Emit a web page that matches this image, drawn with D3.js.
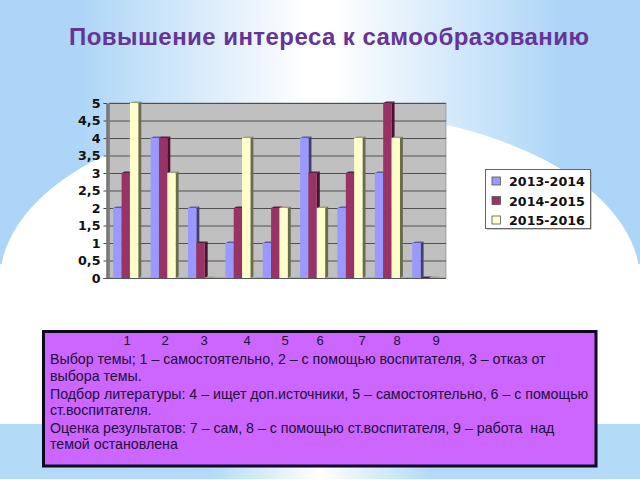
<!DOCTYPE html>
<html>
<head>
<meta charset="utf-8">
<script src="https://cdn.jsdelivr.net/npm/d3@7"></script>
<style>
html,body{margin:0;padding:0;background:#fff;}
svg{display:block;}
</style>
</head>
<body>
<svg id="chart" width="640" height="480"></svg>
<script>
// values
var categories = ["1","2","3","4","5","6","7","8","9"];
var seriesNames = ["2013-2014","2014-2015","2015-2016"];
var values2013 = [2,4,2,1,1,4,2,3,1];
var values2014 = [3,4,1,2,2,3,3,5,0];
var values2015 = [5,3,0,4,2,2,4,4,0];
var yTicks = [0,0.5,1,1.5,2,2.5,3,3.5,4,4.5,5];
var titleText = "Повышение интереса к самообразованию";
var noteNumbers = ["1","2","3","4","5","6","7","8","9"];
var noteLines = [
  "Выбор темы; 1 – самостоятельно, 2 – с помощью воспитателя, 3 – отказ от",
  "выбора темы.",
  "Подбор литературы: 4 – ищет доп.источники, 5 – самостоятельно, 6 – с помощью",
  "ст.воспитателя.",
  "Оценка результатов: 7 – сам, 8 – с помощью ст.воспитателя, 9 – работа  над",
  "темой остановлена"
];

var seriesValues = [values2013, values2014, values2015];
var fills = ["#9999ff","#993366","#ffffcc"];
var sideFills = ["#3f3f75","#4a1230","#6b6b50"];
var topFills = ["#5c5ca8","#5e1c3e","#a0a07c"];

var svg = d3.select("#chart");
var defs = svg.append("defs");

function makeGradient(id, stops){
  var g = defs.append("linearGradient").attr("id", id);
  stops.forEach(function(s){
    g.append("stop").attr("offset", s[0]).attr("stop-color", s[1]);
  });
}
var skyBlue = "#acd5f7";
makeGradient("topGrad", [[0.12,skyBlue],[0.48,"#ffffff"],[0.52,"#ffffff"],[0.88,skyBlue]]);
makeGradient("bottomGrad", [[0.33,"#b3dbf8"],[0.5,"#ffffff"],[0.67,"#b3dbf8"]]);

//background
svg.append("rect").attr("width",640).attr("height",480).attr("fill","#fff");
svg.append("rect").attr("width",640).attr("height",264).attr("fill","url(#topGrad)");
svg.append("ellipse").attr("cx",320).attr("cy",281).attr("rx",320).attr("ry",170).attr("fill","#fff");
svg.append("rect").attr("y",264).attr("width",640).attr("height",160).attr("fill","#fff");
svg.append("rect").attr("y",424).attr("width",640).attr("height",55).attr("fill","url(#bottomGrad)");

//title
svg.append("text")
  .attr("x",69).attr("y",45)
  .attr("font-family","'Liberation Sans'")
  .attr("font-weight","bold")
  .attr("font-size",24)
  .attr("fill","#663399")
  .attr("textLength",520)
  .text(titleText);

//plot
var left = 109.5, right = 446, top_ = 103, bottom = 278, depth = 3, rise = 1.5;
var labelFont = "'DejaVu Sans'";

var xScale = d3.scaleBand().domain(categories).range([left,441]).paddingInner(0.33).paddingOuter(0.1);
var xSeries = d3.scaleBand().domain(d3.range(3)).range([0,xScale.bandwidth()]);
var yScale = d3.scaleLinear().domain([0,5]).range([bottom,top_]);

svg.append("rect")
  .attr("x",left).attr("y",top_).attr("width",right-left).attr("height",bottom-top_)
  .attr("fill","#c0c0c0").attr("stroke","#8a8a8a").attr("stroke-width",0.7);
svg.append("path")
  .attr("d",d3.line()([[left-3,top_+rise],[left,top_],[left,bottom],[left-3,bottom]]))
  .attr("fill","#808080").attr("stroke","#777").attr("stroke-width",0.5);

//grid lines
var grid = svg.append("g")
  .attr("transform","translate("+left+",0)")
  .call(d3.axisLeft(yScale).tickValues(yTicks).tickSize(-(right-left)).tickFormat(""));
grid.select(".domain").remove();
grid.selectAll("line").attr("stroke","#505050").attr("stroke-width",1);

//y axis with comma decimals
var axis = svg.append("g")
  .attr("transform","translate("+(left-3)+",0)")
  .call(d3.axisLeft(yScale).tickValues(yTicks).tickSize(3).tickPadding(3)
    .tickFormat(function(d){ return String(d).replace(".",","); }));
axis.select(".domain").attr("stroke","#666");
axis.selectAll("line").attr("stroke","#444");
axis.selectAll("text")
  .attr("font-family",labelFont).attr("font-weight","bold").attr("font-size",12.7).attr("fill","#111");

//bottom line
svg.append("line")
  .attr("x1",left-6).attr("x2",right)
  .attr("y1",bottom+0.5).attr("y2",bottom+0.5)
  .attr("stroke","#555").attr("stroke-width",1);

//bars, one group per series
seriesValues.forEach(function(vals, s){
  var bw = xSeries.bandwidth();
  var g = svg.append("g");
  var data = categories.map(function(c,i){ return {key:c, value:vals[i]}; });
  function bx(d){ return xScale(d.key) + xSeries(s); }

  g.selectAll(".side").data(data).enter().append("path")
    .attr("fill",sideFills[s])
    .attr("d",function(d){
      var x = bx(d)+bw, y = yScale(d.value);
      return d3.line()([[x,y],[x+depth,y-rise],[x+depth,bottom-rise],[x,bottom]])+"Z";
    });
  g.selectAll(".cap").data(data).enter().append("path")
    .attr("fill",topFills[s])
    .attr("d",function(d){
      var x = bx(d), y = yScale(d.value);
      return d3.line()([[x,y],[x+depth,y-rise],[x+bw+depth,y-rise],[x+bw,y]])+"Z";
    });
  g.selectAll(".front").data(data).enter().append("rect")
    .attr("x",bx)
    .attr("y",function(d){ return yScale(d.value); })
    .attr("width",bw)
    .attr("height",function(d){ return bottom-yScale(d.value); })
    .attr("fill",fills[s]);
});

//legend
var legend = svg.append("g");
legend.append("rect")
  .attr("x",486.5).attr("y",170.5).attr("width",105).attr("height",59)
  .attr("fill","#9a9a9a");
legend.append("rect")
  .attr("x",485.5).attr("y",169.5).attr("width",105).attr("height",59)
  .attr("fill","#fff").attr("stroke","#666").attr("stroke-width",1);
var legendY = d3.scalePoint().domain(seriesNames).range([181,220]);
seriesNames.forEach(function(name,i){
  legend.append("rect")
    .attr("x",492).attr("y",legendY(name)-4).attr("width",8.5).attr("height",8)
    .attr("fill",fills[i]).attr("stroke","#555").attr("stroke-width",0.8);
  legend.append("text")
    .attr("x",509).attr("y",legendY(name)+5)
    .attr("font-family",labelFont).attr("font-weight","bold").attr("font-size",12.7)
    .attr("fill","#111")
    .text(name);
});

//note box
svg.append("rect")
  .attr("x",43.5).attr("y",331.5).attr("width",552.5).attr("height",134.5)
  .attr("fill","#cc66ff").attr("stroke","#0c0820").attr("stroke-width",3);

var noteNumberX = [127,165,204,247,285,320,362,397,436];
svg.selectAll(".num").data(noteNumbers).enter().append("text")
  .attr("class","num")
  .attr("x",function(d,i){ return noteNumberX[i]; })
  .attr("y",345)
  .attr("text-anchor","middle")
  .attr("font-family","'Liberation Sans'").attr("font-size",13).attr("fill","#22103a")
  .text(function(d){ return d; });

var noteY = [364,381,399,415,433,449];
svg.selectAll(".note").data(noteLines).enter().append("text")
  .attr("class","note")
  .attr("x",50)
  .attr("y",function(d,i){ return noteY[i]; })
  .attr("xml:space","preserve")
  .style("white-space","pre")
  .attr("font-family","'Liberation Sans'").attr("font-size",14.2).attr("fill","#22103a")
  .text(function(d){ return d; });
</script>
</body>
</html>
